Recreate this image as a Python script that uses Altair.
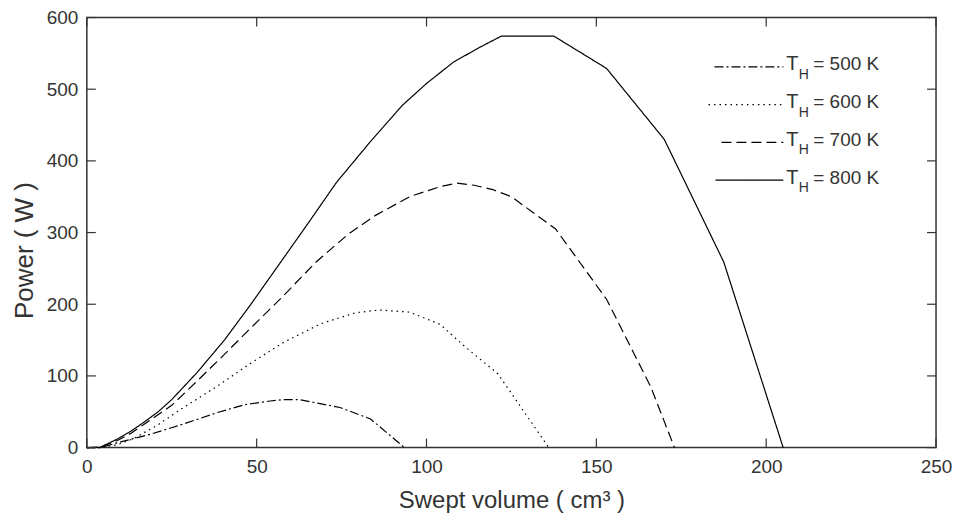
import altair as alt
import pandas as pd

# ---- data ----
series_names = ["T_H = 500 K", "T_H = 600 K", "T_H = 700 K", "T_H = 800 K"]

x_500 = [0, 4, 10, 19, 28.5, 38.5, 46.5, 54, 58, 62.5, 74.5, 83.5, 90, 93.5]
y_500 = [0, 0, 8, 19, 33, 49, 60, 65, 67, 67, 56, 40, 14, 0]

x_600 = [0, 4, 9, 14, 21, 28.5, 38.5, 48, 58, 69, 79, 86, 95, 104, 111.5, 121, 136]
y_600 = [0, 0, 4, 13, 32, 56, 86, 117, 147, 173, 188, 192, 189, 172, 140, 103, 0]

x_700 = [0, 4, 9, 13, 17, 25, 32.5, 40.5, 48.5, 57.5, 67.5, 77, 85, 95, 104, 109, 114, 119.5, 125, 138, 153, 166, 173]
y_700 = [0, 0.5, 10, 20, 33, 59, 93, 130, 168, 210, 259, 298, 324, 350, 364, 369, 366, 360, 350, 305, 207, 85, 0]

x_800 = [0, 4, 9, 13, 17, 21, 25, 32.5, 40.5, 48, 58, 65, 73.5, 83.5, 93, 100, 108, 115.5, 122, 137.5, 153, 170, 187.5, 205]
y_800 = [0, 0.5, 12, 23, 36, 50, 67, 105, 150, 198, 265, 312, 370, 427, 478, 508, 538, 558, 574, 574, 529, 430, 259, 0]

x_ticks = [0, 50, 100, 150, 200, 250]
y_ticks = [0, 100, 200, 300, 400, 500, 600]

dash_styles = [[9, 3, 2, 3], [1.5, 4], [10, 5], [1, 0]]

rows = []
for name, xs, ys in zip(series_names,
                        [x_500, x_600, x_700, x_800],
                        [y_500, y_600, y_700, y_800]):
    for i, (xv, yv) in enumerate(zip(xs, ys)):
        rows.append({"series": name, "x": xv, "y": yv, "order": i})
df = pd.DataFrame(rows)

W, H = 851, 431
FONT = "Liberation Sans"
TXT = "#333333"

xscale = alt.Scale(domain=[0, 250], nice=False, zero=False)
yscale = alt.Scale(domain=[0, 600], nice=False, zero=False)
dash_scale = alt.Scale(domain=series_names, range=dash_styles)

lines = alt.Chart(df).mark_line(color="black", strokeWidth=1.2).encode(
    x=alt.X("x:Q", scale=xscale,
            axis=alt.Axis(values=x_ticks, ticks=False, domain=False, grid=False,
                          labelFlush=False,
                          labelFontSize=19, labelFont=FONT, labelColor=TXT,
                          labelPadding=10,
                          title="Swept volume ( cm³ )", titleFont=FONT,
                          titleFontSize=24, titleFontWeight="normal",
                          titleColor=TXT, titleBaseline="alphabetic",
                          titleY=60)),
    y=alt.Y("y:Q", scale=yscale,
            axis=alt.Axis(values=y_ticks, ticks=False, domain=False, grid=False,
                          labelFlush=False,
                          labelFontSize=19, labelFont=FONT, labelColor=TXT,
                          labelPadding=9,
                          title="Power ( W )", titleFont=FONT,
                          titleFontSize=26, titleFontWeight="normal",
                          titleColor=TXT, titleX=-49, titleY=233)),
    strokeDash=alt.StrokeDash("series:N", scale=dash_scale, legend=None),
    order="order:Q",
)

xt = pd.DataFrame({"v": x_ticks})
yt = pd.DataFrame({"v": y_ticks})
TK = 9
tick_color = "#333333"
bottom_ticks = alt.Chart(xt).mark_rule(color=tick_color, strokeWidth=1.2).encode(
    x=alt.X("v:Q", scale=xscale), y=alt.value(H), y2=alt.value(H - TK))
top_ticks = alt.Chart(xt).mark_rule(color=tick_color, strokeWidth=1.2).encode(
    x=alt.X("v:Q", scale=xscale), y=alt.value(0), y2=alt.value(TK))
left_ticks = alt.Chart(yt).mark_rule(color=tick_color, strokeWidth=1.2).encode(
    y=alt.Y("v:Q", scale=yscale), x=alt.value(0), x2=alt.value(TK))
right_ticks = alt.Chart(yt).mark_rule(color=tick_color, strokeWidth=1.2).encode(
    y=alt.Y("v:Q", scale=yscale), x=alt.value(W), x2=alt.value(W - TK))

# ---- custom legend (subscript H) ----
legend_layers = []
line_starts = [629, 623, 636, 630]
for i, name in enumerate(series_names):
    ly = 49.5 + 37.8 * i
    temp = name.split(" = ")[1]
    ldf = pd.DataFrame({"series": [name], "main": ["T"], "sub": ["H"],
                        "rest": ["= " + temp]})
    base = alt.Chart(ldf)
    legend_layers.append(
        base.mark_rule(color="black", strokeWidth=1.2).encode(
            x=alt.value(line_starts[i]), x2=alt.value(698), y=alt.value(ly),
            strokeDash=alt.StrokeDash("series:N", scale=dash_scale, legend=None)))
    legend_layers.append(
        base.mark_text(align="left", baseline="alphabetic", font=FONT,
                       fontSize=20, color=TXT).encode(
            x=alt.value(701), y=alt.value(ly + 3.5), text="main:N"))
    legend_layers.append(
        base.mark_text(align="left", baseline="alphabetic", font=FONT,
                       fontSize=14, color=TXT).encode(
            x=alt.value(713.5), y=alt.value(ly + 12), text="sub:N"))
    legend_layers.append(
        base.mark_text(align="left", baseline="alphabetic", font=FONT,
                       fontSize=19, color=TXT).encode(
            x=alt.value(728), y=alt.value(ly + 3.5), text="rest:N"))

chart = alt.layer(lines, bottom_ticks, top_ticks, left_ticks, right_ticks,
                  *legend_layers).properties(
    width=W, height=H,
    autosize=alt.AutoSizeParams(type="none"),
    padding={"left": 79, "top": 9, "right": 16, "bottom": 66},
    background="white",
).configure_view(stroke="#333333", strokeWidth=1.5)

chart.save("out.html", embed_options={"renderer": "svg", "actions": False})
